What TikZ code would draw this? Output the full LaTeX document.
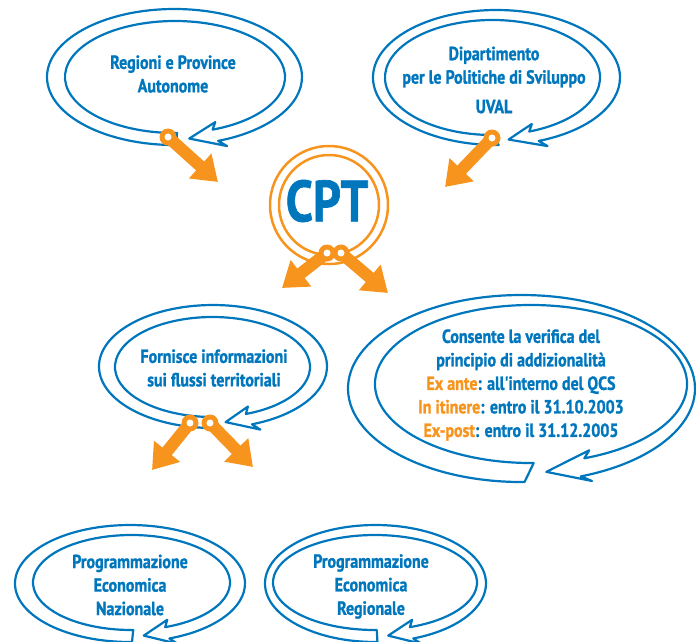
\documentclass[tikz,border=0pt]{standalone}
\usepackage{fontspec}
\newfontfamily\cptfont{PT Sans}[FakeStretch=0.84,BoldFeatures={FakeBold=1.2}]
\usetikzlibrary{arrows.meta}
\definecolor{cptblue}{RGB}{0,118,189}
\definecolor{cptorange}{RGB}{247,148,29}

% spiral band: outer centre, outer radii, inner centre, inner radii
\newcommand{\spiral}[8]{%
\pgfmathsetmacro{\spOA}{#3+7}\pgfmathsetmacro{\spOB}{#4+7}%
\pgfmathsetmacro{\spIA}{#7-7}\pgfmathsetmacro{\spIB}{#8-7}%
\pgfmathsetmacro{\spMX}{(#1+#5)/2}\pgfmathsetmacro{\spMY}{(#2+#6)/2}%
\pgfmathsetmacro{\spMA}{(#3+#7)/2}\pgfmathsetmacro{\spMB}{(#4+#8)/2}%
\draw [spiralline] ([shift={(271:#3 and #4)}]#1,#2)
  arc [start angle=271, end angle=-70, x radius=#3, y radius=#4]
  -- ([shift={(-67:\spOA\space and \spOB)}]#1,#2)
  -- ([shift={(-83:\spMA\space and \spMB)}]\spMX,\spMY)
  -- ([shift={(-67:\spIA\space and \spIB)}]#5,#6)
  -- ([shift={(-70:#7 and #8)}]#5,#6)
  arc [start angle=-70, end angle=271, x radius=#7, y radius=#8]
  -- cycle;}

% orange pin from (#1) to (#2)
\newcommand{\pushpin}[2]{%
\fill [cptorange] (#1) circle [radius=8.5];
\draw [pushpin] (#1) -- (#2);
\fill [white] (#1) circle [radius=3.5];}

\begin{document}
\begin{tikzpicture}[line cap=round,line join=round,x=1pt,y=1pt,
  spiralline/.style={draw=cptblue,line width=2.2pt},
  pushpin/.style={draw=cptorange,line width=12pt,line cap=butt,-{Triangle[width=32pt,length=24pt]}},
  txt/.style={text=cptblue,align=center,font=\cptfont\bfseries\fontsize{19}{23.5}\selectfont}]
\useasboundingbox (0,0) rectangle (696,-641);

\spiral{174.5}{-77}{127.5}{68}{175}{-77}{110}{56}
\spiral{496.5}{-77.5}{123.5}{67.5}{492.5}{-77.5}{107.5}{57.5}
\spiral{213}{-366.5}{114}{61.5}{212.5}{-367}{97.5}{50}
\spiral{521.5}{-388.5}{173.5}{93.5}{531}{-384}{156}{79}
\spiral{130}{-583.5}{115}{58.5}{131.5}{-582.5}{98.5}{47.5}
\spiral{375.5}{-583.5}{110.5}{58.5}{375}{-582.5}{102}{47.5}

\draw [cptorange,line width=2.5pt] (329,-205) circle [radius=59];
\draw [cptorange,line width=2.5pt] (329,-205) circle [radius=50];

\node [txt] (regioni) at (173,-74) {Regioni e Province\\Autonome};
\node [txt] (dps) at (494,-80) {Dipartimento\\per le Politiche di Sviluppo\\[6pt]UVAL};
\node [text=cptblue,font=\cptfont\bfseries\fontsize{58}{60}\selectfont] (cpt) at (327,-201) {CPT};
\node [txt] (info) at (214,-368) {Fornisce informazioni\\sui flussi territoriali};
\node [txt] (verifica) at (521,-385) {Consente la verifica del\\principio di addizionalità\\
  {\color{cptorange}Ex ante}: all'interno del QCS\\
  {\color{cptorange}In itinere}: entro il 31.10.2003\\
  {\color{cptorange}Ex-post}: entro il 31.12.2005};
\node [txt] (pen) at (130,-585) {Programmazione\\Economica\\Nazionale};
\node [txt] (per) at (371,-586.5) {Programmazione\\Economica\\Regionale};

\coordinate (regpin) at (168,-137);  \coordinate (regtip) at (218,-182);
\coordinate (dpspin) at (492,-138);  \coordinate (dpstip) at (445,-187);
\coordinate (cptpinl) at (327,-253); \coordinate (cpttipl) at (282,-288);
\coordinate (cptpinr) at (341,-253); \coordinate (cpttipr) at (388,-293);
\coordinate (infopinl) at (190,-423); \coordinate (infotipl) at (152,-470);
\coordinate (infopinr) at (210,-423); \coordinate (infotipr) at (253,-467);

\pushpin{regpin}{regtip}
\pushpin{dpspin}{dpstip}
\pushpin{cptpinl}{cpttipl}
\pushpin{cptpinr}{cpttipr}
\pushpin{infopinl}{infotipl}
\pushpin{infopinr}{infotipr}
\end{tikzpicture}
\end{document}
